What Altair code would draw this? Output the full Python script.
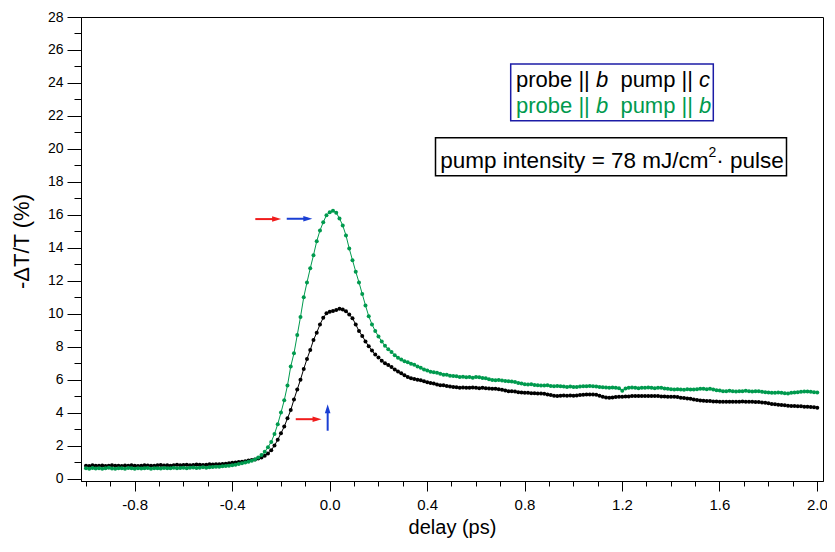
import altair as alt
import pandas as pd

FONT = "Liberation Sans"
GREEN = "#009a4e"
BLACK = "#000000"
RED = "#f01c1c"
BLUE = "#1a3fd4"

# ---------------- data ----------------
# pump-probe delay grid: scan from -1.0 ps in 13.34 fs stage steps
delay_start = -1.0
delay_step = 0.01334
n_points = 226
delay_ps = [round(delay_start + i * delay_step, 5) for i in range(n_points)]

# probe || b, pump || c  (black)
black_dTT = [
    0.78, 0.76, 0.80, 0.78, 0.77, 0.79, 0.76, 0.78, 0.80, 0.77,
    0.78, 0.76, 0.79, 0.78, 0.80, 0.77, 0.76, 0.78, 0.80, 0.79,
    0.77, 0.78, 0.80, 0.82, 0.79, 0.80, 0.78, 0.81, 0.83, 0.80,
    0.82, 0.84, 0.80, 0.82, 0.85, 0.83, 0.82, 0.84, 0.86, 0.85,
    0.87, 0.86, 0.88, 0.90, 0.92,
    0.95, 0.97, 1.00, 1.02, 1.05, 1.10, 1.12, 1.16, 1.22, 1.28,
    1.38, 1.52, 1.72, 2.00, 2.35, 2.75, 3.15, 3.65, 4.15, 4.80,
    5.40, 6.00, 6.65, 7.25, 7.80, 8.40, 8.85, 9.35, 9.75, 10.02,
    10.12, 10.16, 10.22, 10.30, 10.25, 10.15, 9.95, 9.72, 9.35, 8.95,
    8.65, 8.32, 8.02, 7.76, 7.52, 7.35, 7.15, 7.00, 6.88, 6.76,
    6.62, 6.50, 6.38, 6.26, 6.16, 6.08, 6.04, 6.00, 5.96, 5.90,
    5.84, 5.80, 5.76, 5.70, 5.66, 5.66, 5.62, 5.58,
    5.56, 5.54, 5.50, 5.52, 5.50, 5.50, 5.52, 5.50, 5.48, 5.50,
    5.48, 5.46, 5.44, 5.44, 5.42, 5.38, 5.34, 5.30, 5.30, 5.28,
    5.24, 5.22, 5.20, 5.20, 5.18, 5.18, 5.16, 5.16, 5.14, 5.10,
    5.06, 5.02, 5.00, 5.02, 5.04, 5.02, 5.04, 5.02, 5.04, 5.06,
    5.08, 5.10, 5.10, 5.10, 5.08, 5.02, 4.96, 4.92, 4.90, 4.92,
    4.94, 4.96, 4.96, 4.98, 4.98, 5.00, 5.00, 5.00, 5.00, 5.00,
    5.00, 5.00, 5.00, 5.00, 4.98, 4.98, 4.96, 4.96, 4.96, 4.94,
    4.90, 4.88, 4.86, 4.84, 4.80, 4.76, 4.74, 4.72, 4.70, 4.70,
    4.68, 4.68, 4.66, 4.66, 4.66, 4.66, 4.66, 4.66, 4.66, 4.68,
    4.66, 4.66, 4.66, 4.64, 4.64, 4.62, 4.60, 4.56, 4.52, 4.50,
    4.48, 4.46, 4.44, 4.42, 4.40, 4.40, 4.38, 4.38, 4.36, 4.36,
    4.34, 4.32, 4.30,
]

# probe || b, pump || b  (green)
green_dTT = [
    0.62, 0.60, 0.64, 0.61, 0.63, 0.60, 0.62, 0.65, 0.61, 0.60,
    0.63, 0.62, 0.60, 0.64, 0.62, 0.60, 0.63, 0.61, 0.62, 0.64,
    0.60, 0.62, 0.63, 0.61, 0.64, 0.62, 0.63, 0.65, 0.62, 0.64,
    0.66, 0.63, 0.65, 0.67, 0.64, 0.66, 0.68, 0.66, 0.69, 0.70,
    0.71, 0.72, 0.74, 0.76, 0.78,
    0.80, 0.84, 0.88, 0.92, 0.97, 1.02, 1.08, 1.15, 1.27, 1.42,
    1.62, 1.90, 2.22, 2.70, 3.30, 4.00, 4.75, 5.65, 6.80, 7.60,
    8.70, 9.80, 11.00, 11.90, 12.75, 13.55, 14.40, 15.05, 15.55, 15.98,
    16.15, 16.25, 16.12, 15.78, 15.35, 14.75, 13.95, 13.25, 12.55, 11.90,
    11.20, 10.50, 9.85, 9.35, 8.95, 8.62, 8.32, 8.05, 7.85, 7.68,
    7.48, 7.33, 7.22, 7.12, 7.05, 6.96, 6.90, 6.80, 6.72, 6.62,
    6.55, 6.48, 6.45, 6.42, 6.36, 6.30, 6.30, 6.24,
    6.22, 6.20, 6.16, 6.18, 6.14, 6.16, 6.12, 6.16, 6.15, 6.10,
    6.08, 6.02, 5.98, 5.96, 5.98, 5.94, 5.92, 5.90, 5.88, 5.86,
    5.80, 5.76, 5.72, 5.70, 5.72, 5.68, 5.66, 5.64, 5.64, 5.66,
    5.62, 5.60, 5.62, 5.60, 5.58, 5.56, 5.58, 5.55, 5.56, 5.58,
    5.60, 5.60, 5.62, 5.60, 5.58, 5.56, 5.54, 5.52, 5.50, 5.52,
    5.50, 5.48, 5.32, 5.46, 5.50, 5.52, 5.50, 5.48, 5.50, 5.50,
    5.52, 5.50, 5.48, 5.50, 5.50, 5.46, 5.44, 5.42, 5.40, 5.42,
    5.40, 5.38, 5.42, 5.40, 5.40, 5.42, 5.44, 5.44, 5.42, 5.44,
    5.40, 5.36, 5.34, 5.30, 5.30, 5.32, 5.30, 5.28, 5.30, 5.30,
    5.32, 5.30, 5.28, 5.30, 5.30, 5.26, 5.24, 5.22, 5.20, 5.20,
    5.22, 5.20, 5.18, 5.16, 5.20, 5.22, 5.24, 5.26, 5.28, 5.28,
    5.26, 5.24, 5.22,
]

# arrows (tail -> tip, data units)
arrow_t0 = [-0.305, -0.176, -0.139, -0.008]
arrow_v0 = [15.74, 15.76, 3.60, 2.90]
arrow_t1 = [-0.199, -0.071, -0.033, -0.008]
arrow_v1 = [15.74, 15.76, 3.60, 4.50]
arrow_col = [RED, BLUE, RED, BLUE]

# ---------------- layout ----------------
PAD_TOP = 9
W, H = 742, 464
X_DOM = [-1.0204, 2.025]
Y_DOM = [-0.15, 28.0]
px_x = W / (X_DOM[1] - X_DOM[0])
px_y = H / (Y_DOM[1] - Y_DOM[0])
HEAD = 9.0
DY = 13 - (8 + PAD_TOP)  # shift from reference page coords (origin y=13) to plot origin

xscale = alt.Scale(domain=X_DOM, nice=False, zero=False)
yscale = alt.Scale(domain=Y_DOM, nice=False, zero=False)

x_ticks = [round(-1.0 + 0.1 * k, 1) for k in range(31)]
y_ticks = list(range(0, 29))

x_axis = alt.Axis(
    title="delay (ps)",
    values=x_ticks,
    labelExpr="abs(round(datum.value*10)) % 4 == 0 ? (datum.value < -0.001 ? '-' : '') + format(abs(datum.value), '.1f') : ''",
    tickSize={"condition": {"test": "abs(round(datum.value*10)) % 4 == 0", "value": 10}, "value": 5},
    labelPadding=6,
    labelFontSize=15,
    labelOverlap=False,
    labelFlush=False,
    titleX=W / 2,
    titleY=52.5,
    titleFontSize=20,
    titleAlign="center",
    titleBaseline="alphabetic",
)
y_axis = alt.Axis(
    title="-ΔT/T (%)",
    values=y_ticks,
    labelExpr="datum.value % 2 == 0 ? format(datum.value, 'd') : ''",
    tickSize={"condition": {"test": "datum.value % 2 == 0", "value": 14}, "value": 7},
    labelPadding=4,
    labelFontSize=14,
    labelOverlap=False,
    labelFlush=False,
    titleX=-52.5,
    titleY=241 - (8 + PAD_TOP),
    titleAngle=270,
    titleAlign="center",
    titleBaseline="alphabetic",
)

black_df = pd.DataFrame({"delay": delay_ps, "value": black_dTT})
green_df = pd.DataFrame({"delay": delay_ps, "value": green_dTT})


def series_layer(df, color):
    return alt.Chart(df).mark_line(
        color=color, strokeWidth=1,
        point=alt.OverlayMarkDef(filled=True, size=16, color=color, opacity=1),
    ).encode(
        x=alt.X("delay:Q", scale=xscale, axis=x_axis),
        y=alt.Y("value:Q", scale=yscale, axis=y_axis),
    )


# arrows
head_t, head_v, shape = [], [], []
for t0, v0, t1, v1 in zip(arrow_t0, arrow_v0, arrow_t1, arrow_v1):
    if abs(v1 - v0) < 1e-9:
        head_t.append(t1 - (HEAD / 2) / px_x)
        head_v.append(v1)
        shape.append("M-1,-0.62L1,0L-1,0.62Z")
    else:
        head_t.append(t1)
        head_v.append(v1 - (HEAD / 2) / px_y)
        shape.append("M-0.62,1L0,-1L0.62,1Z")
arrow_df = pd.DataFrame({"delay": arrow_t0, "value": arrow_v0, "ht": head_t, "hv": head_v,
                         "col": arrow_col, "shape": shape})

shafts = alt.Chart(arrow_df).mark_rule(strokeWidth=2).encode(
    x=alt.X("delay:Q", scale=xscale, axis=x_axis),
    x2="ht:Q",
    y=alt.Y("value:Q", scale=yscale, axis=y_axis),
    y2="hv:Q",
    color=alt.Color("col:N", scale=None),
)
heads = alt.Chart(arrow_df).mark_point(filled=True, size=HEAD * HEAD, opacity=1).encode(
    x=alt.X("ht:Q", scale=xscale, axis=x_axis),
    y=alt.Y("hv:Q", scale=yscale, axis=y_axis),
    color=alt.Color("col:N", scale=None),
    shape=alt.Shape("shape:N", scale=None),
)

one = pd.DataFrame({"k": [0]})


def box(x0, x1, y0, y1, stroke):
    return alt.Chart(one).mark_rect(fill="white", stroke=stroke, strokeWidth=1.5).encode(
        x=alt.value(x0), x2=alt.value(x1), y=alt.value(y0 + DY), y2=alt.value(y1 + DY))


def label(s, x, y, color, size, italic=False):
    return alt.Chart(one).mark_text(
        text=s, align="left", baseline="alphabetic", font=FONT, fontSize=size,
        fontStyle="italic" if italic else "normal", color=color,
    ).encode(x=alt.value(x), y=alt.value(y + DY))


legend_segments = ["probe || ", "b", "pump || ", "c"]
legend_segments2 = ["probe || ", "b", "pump || ", "b"]
seg_x = [435.0, 514.9, 539.4, 618.1]
seg_italic = [False, True, False, True]

ann = [box(429.7, 632.3, 51.0, 107.7, "#1c1ca6")]
for s, x, it in zip(legend_segments, seg_x, seg_italic):
    ann.append(label(s, x, 74.3, BLACK, 22, it))
for s, x, it in zip(legend_segments2, seg_x, seg_italic):
    ann.append(label(s, x, 99.7, GREEN, 22, it))

ann.append(box(354.5, 705.5, 124.7, 162.7, "black"))
ann.append(label("pump intensity = 78 mJ/cm", 359.3, 155.3, BLACK, 22.5))
ann.append(label("2", 627.5, 144.3, BLACK, 14))
ann.append(label("\u00b7 pulse", 635.3, 155.3, BLACK, 22.5))

chart = alt.layer(
    series_layer(black_df, BLACK),
    series_layer(green_df, GREEN),
    shafts, heads, *ann,
).properties(
    width=W, height=H,
    autosize=alt.AutoSizeParams(type="none"),
    padding={"left": 73, "top": PAD_TOP, "right": 4, "bottom": 57},
).configure_axis(
    labelFont=FONT, titleFont=FONT, labelColor="black", titleColor="black",
    tickColor="black", domainColor="black", grid=False,
    titleFontSize=22, titleFontWeight="normal", tickWidth=1, domainWidth=1,
).configure_view(stroke="black", strokeWidth=1)

chart.save("out.html", embed_options={"renderer": "svg", "actions": False})
